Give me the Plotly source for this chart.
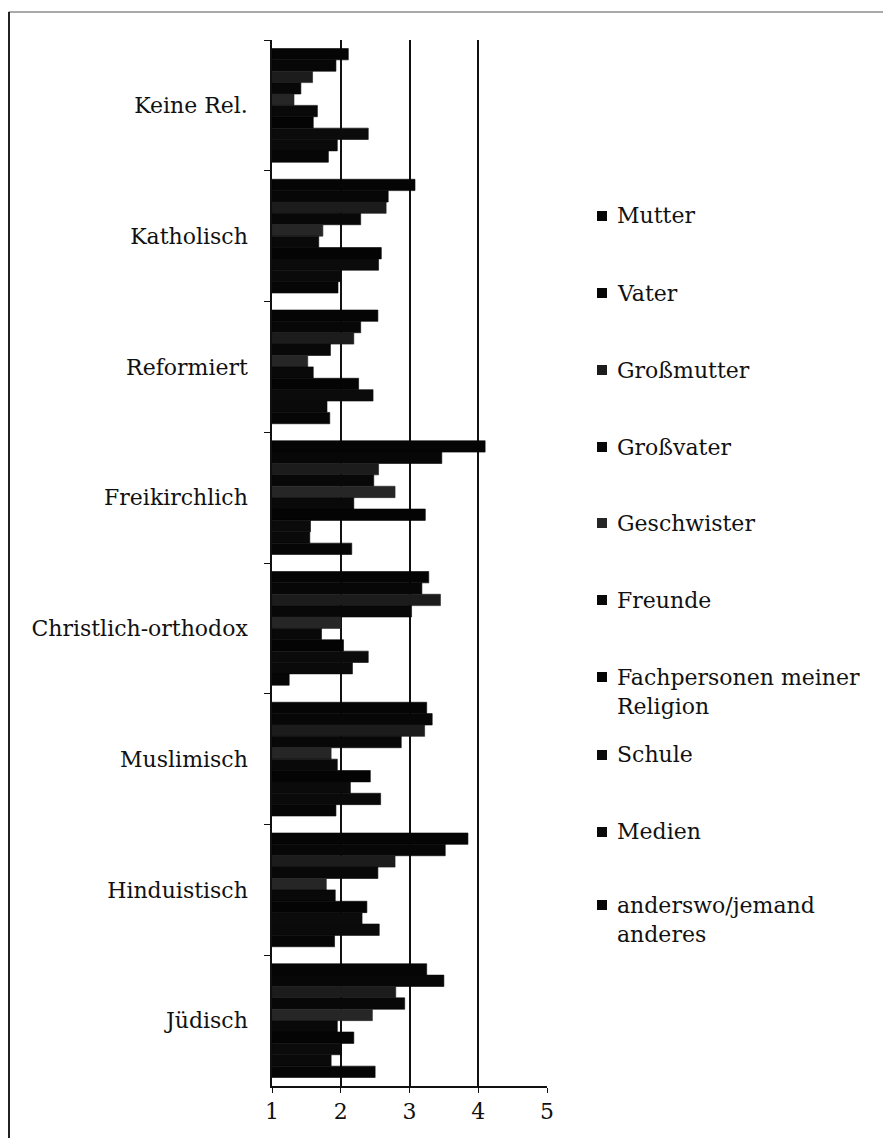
import plotly.graph_objects as go

categories = ["Keine Rel.", "Katholisch", "Reformiert", "Freikirchlich",
              "Christlich-orthodox", "Muslimisch", "Hinduistisch", "Jüdisch"]

series_names = ["Mutter", "Vater", "Großmutter", "Großvater", "Geschwister",
                "Freunde", "Fachpersonen meiner<br>Religion", "Schule", "Medien",
                "anderswo/jemand<br>anderes"]

mutter      = [2.11, 3.08, 2.54, 4.10, 3.28, 3.25, 3.85, 3.25]
vater       = [1.93, 2.69, 2.29, 3.47, 3.18, 3.33, 3.52, 3.50]
grossmutter = [1.59, 2.66, 2.19, 2.55, 3.45, 3.22, 2.79, 2.80]
grossvater  = [1.42, 2.29, 1.85, 2.48, 3.03, 2.88, 2.54, 2.93]
geschwister = [1.32, 1.74, 1.52, 2.79, 2.00, 1.86, 1.79, 2.46]
freunde     = [1.66, 1.68, 1.60, 2.19, 1.72, 1.95, 1.92, 1.95]
fachpers    = [1.60, 2.59, 2.26, 3.23, 2.04, 2.43, 2.38, 2.19]
schule      = [2.40, 2.55, 2.47, 1.56, 2.40, 2.14, 2.31, 2.01]
medien      = [1.95, 2.00, 1.80, 1.55, 2.17, 2.58, 2.56, 1.86]
anderswo    = [1.82, 1.96, 1.84, 2.16, 1.25, 1.93, 1.91, 2.50]

series_values = [mutter, vater, grossmutter, grossvater, geschwister,
                 freunde, fachpers, schule, medien, anderswo]

x_ticks = [1, 2, 3, 4, 5]

colors = ["#050505", "#070707", "#1c1c1c", "#080808", "#262626",
          "#090909", "#040404", "#0b0b0b", "#0a0a0a", "#060606"]

OFF = 8  # default page body margin
W, H = 891 - 2 * OFF, 1146 - 2 * OFF
L, R, T, B = 272 - OFF, 547 - OFF, 40 - OFF, 1086 - OFF
FONT = "DejaVu Serif"
FS = 22

def px(x):  # page pixel -> paper
    return (x - OFF - L) / (R - L)

def py(y):
    return (B - (y - OFF)) / (B - T)

fig = go.Figure()
for name, vals, col in zip(series_names, series_values, colors):
    fig.add_trace(go.Bar(
        y=categories, x=[v - 1 for v in vals], base=1, orientation="h",
        name=name, marker=dict(color=col, line=dict(width=0.6, color=col)),
        showlegend=False,
    ))

# legend drawn as annotations + squares (page pixel positions)
legend_y = [216, 293, 370, 447, 523, 600, 692, 755, 832, 920]
shapes = []
annotations = []
for name, col, ly in zip(series_names, colors, legend_y):
    nlines = name.count("<br>") + 1
    top_line_y = ly - (nlines - 1) * 15
    shapes.append(dict(type="rect", xref="paper", yref="paper",
                       x0=px(597), x1=px(607), y0=py(top_line_y + 5), y1=py(top_line_y - 5),
                       fillcolor=col, line=dict(width=0)))
    annotations.append(dict(xref="paper", yref="paper", x=px(615), y=py(ly),
                            text=name, showarrow=False, xanchor="left", yanchor="middle",
                            align="left", font=dict(family=FONT, size=FS, color="#111")))

# outer frame
shapes.append(dict(type="line", xref="paper", yref="paper",
                   x0=px(8.5), x1=px(891), y0=py(12), y1=py(12),
                   line=dict(color="#555", width=1)))
shapes.append(dict(type="line", xref="paper", yref="paper",
                   x0=px(9), x1=px(9), y0=py(12), y1=py(1146),
                   line=dict(color="#222", width=2)))

fig.update_layout(
    width=W, height=H,
    margin=dict(l=L, r=W - R, t=T, b=H - B, pad=0),
    paper_bgcolor="white", plot_bgcolor="white",
    barmode="group", bargap=0.13, bargroupgap=0,
    shapes=shapes, annotations=annotations,
    font=dict(family=FONT, size=FS, color="#111"),
    xaxis=dict(range=[1, 5], tickvals=x_ticks, ticktext=[str(t) for t in x_ticks],
               showgrid=True, gridcolor="#111", gridwidth=1.5,
               showline=True, linecolor="#111", linewidth=1.5,
               ticks="outside", ticklen=5, tickcolor="#111",
               tickfont=dict(family=FONT, size=FS, color="#111"),
               zeroline=False, fixedrange=True),
    yaxis=dict(categoryorder="array", categoryarray=categories, autorange="reversed",
               showline=True, linecolor="#111", linewidth=1.5,
               ticks="outside", ticklen=6, tickcolor="#111", tickson="boundaries",
               ticklabelstandoff=18,
               tickfont=dict(family=FONT, size=FS, color="#111"),
               showgrid=False, fixedrange=True),
)

fig.write_html("out.html")
